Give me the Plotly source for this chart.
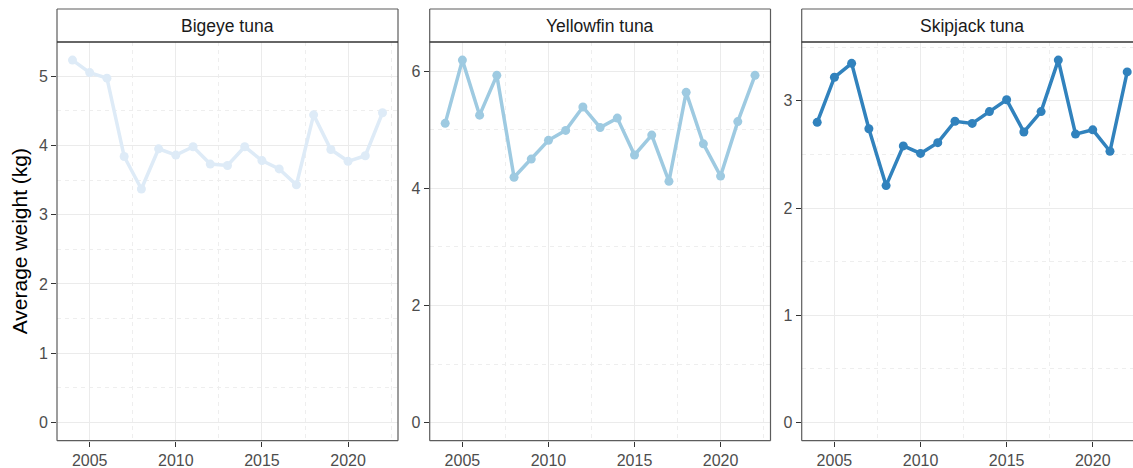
import plotly.graph_objects as go

years = list(range(2004, 2023))
species = ["Bigeye tuna", "Yellowfin tuna", "Skipjack tuna"]
bigeye = [5.23, 5.05, 4.97, 3.84, 3.37, 3.95, 3.86, 3.98, 3.73, 3.71, 3.98, 3.78, 3.66, 3.43, 4.44, 3.94, 3.77, 3.85, 4.47]
yellowfin = [5.11, 6.19, 5.25, 5.93, 4.19, 4.50, 4.82, 4.99, 5.39, 5.04, 5.20, 4.57, 4.91, 4.12, 5.64, 4.76, 4.21, 5.14, 5.93]
skipjack = [2.80, 3.22, 3.35, 2.74, 2.21, 2.58, 2.51, 2.61, 2.81, 2.79, 2.90, 3.01, 2.71, 2.90, 3.38, 2.69, 2.73, 2.53, 3.27]
series = [bigeye, yellowfin, skipjack]
colors = ["#deebf7", "#9ecae1", "#3182bd"]
y_dticks = [1, 2, 1]
x_tickvals = [2005, 2010, 2015, 2020]

W, H = 1133, 468
panel_px = [(57, 398), (429.7, 770.5), (801.7, 1142.7)]
plot_top, plot_bot = 42, 440.7
strip_top = 9

def px(x):
    return x / W

def py(y):
    return 1 - y / H

fig = go.Figure()
shapes = []
annotations = []
border = "#5c5c5c"

for i, (name, vals, col) in enumerate(zip(species, series, colors)):
    n = "" if i == 0 else str(i + 1)
    fig.add_trace(go.Scatter(
        x=years, y=vals, mode="lines+markers",
        line=dict(color=col, width=3.5),
        marker=dict(color=col, size=9),
        xaxis="x" + n, yaxis="y" + n, showlegend=False,
        hoverinfo="x+y",
    ))
    left, right = panel_px[i]
    vis_right = min(right, W)
    span = years[-1] - years[0]
    x0 = years[0] - 0.05 * span
    x1 = years[-1] + 0.05 * span
    x1_vis = x0 + (x1 - x0) * (vis_right - left) / (right - left)
    ymax = max(vals)
    ypad = 0.05 * ymax
    grid_major = dict(showgrid=True, gridcolor="#ebebeb", gridwidth=1.3)
    minor_cfg = dict(showgrid=True, gridcolor="#eeeeee", griddash="4px,4px", gridwidth=1)
    fig.layout["xaxis" + n] = dict(
        domain=[px(left), px(vis_right)], anchor="y" + n,
        range=[x0, x1_vis], tickmode="array", tickvals=x_tickvals,
        ticks="outside", ticklen=5, tickcolor="#333333", tickwidth=1,
        tickfont=dict(size=16, color="#4d4d4d"),
        zeroline=False, showline=False,
        minor=dict(tickmode="linear", tick0=2002.5, dtick=2.5, **minor_cfg),
        **grid_major,
    )
    fig.layout["yaxis" + n] = dict(
        domain=[py(plot_bot), py(plot_top)], anchor="x" + n,
        range=[-ypad, ymax + ypad], tickmode="linear", tick0=0, dtick=y_dticks[i],
        ticks="outside", ticklen=5, tickcolor="#333333", tickwidth=1,
        tickfont=dict(size=16, color="#4d4d4d"),
        zeroline=False, showline=False,
        minor=dict(tickmode="linear", tick0=0, dtick=y_dticks[i] / 2, **minor_cfg),
        **grid_major,
    )
    segs = [
        (left, plot_top, left, plot_bot),
        (left, plot_bot, vis_right, plot_bot),
        (left, strip_top, vis_right, strip_top),
        (left, strip_top, left, plot_top),
    ]
    if right <= W:
        segs += [(right, plot_top, right, plot_bot), (right, strip_top, right, plot_top)]
    for (a, b, c, d) in segs:
        shapes.append(dict(type="line", xref="paper", yref="paper",
                           x0=px(a), y0=py(b), x1=px(c), y1=py(d),
                           line=dict(color=border, width=1.2), layer="above"))
    shapes.append(dict(type="line", xref="paper", yref="paper",
                       x0=px(left), y0=py(plot_top), x1=px(vis_right), y1=py(plot_top),
                       line=dict(color="#333333", width=1.6), layer="above"))
    annotations.append(dict(text=name, xref="paper", yref="paper",
                            x=px((left + right) / 2), y=py((strip_top + plot_top) / 2),
                            showarrow=False, xanchor="center", yanchor="middle",
                            font=dict(size=17.5, color="#1a1a1a")))

annotations.append(dict(text="Average weight (kg)", xref="paper", yref="paper",
                        x=px(19), y=py((plot_top + plot_bot) / 2), textangle=-90,
                        showarrow=False, xanchor="center", yanchor="middle",
                        font=dict(size=21, color="#000000")))

fig.update_layout(
    width=W, height=H,
    margin=dict(l=0, r=0, t=0, b=0),
    paper_bgcolor="white", plot_bgcolor="white",
    font=dict(family="Liberation Sans, Arial, sans-serif"),
    shapes=shapes, annotations=annotations, showlegend=False,
)

fig.write_html(
    "out.html",
    config={"displayModeBar": False},
    post_script="document.body.style.margin='0';document.body.style.overflow='hidden';",
)
